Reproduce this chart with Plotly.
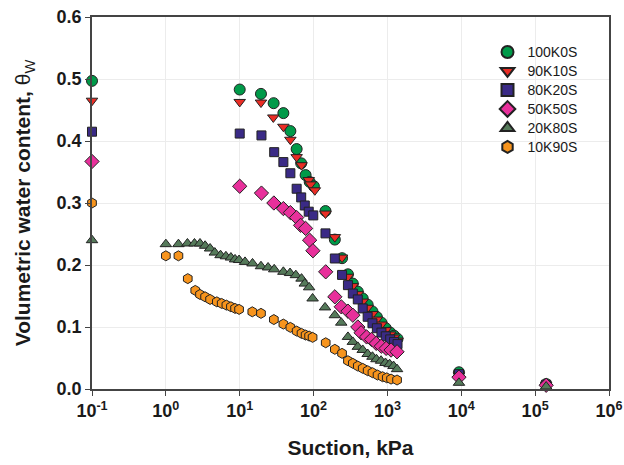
import plotly.graph_objects as go

# ---------------- data ----------------
dense_x = [145, 194, 243, 292, 340, 397, 463, 540, 627, 720, 830, 950, 1090, 1230, 1370]

s100_x = [0.1, 10, 19.4, 28.8, 39, 48.5, 59, 68, 78, 88.6, 101] + dense_x + [9300, 141000]
s100_y = [0.497, 0.483, 0.476, 0.461, 0.445, 0.416, 0.387, 0.364, 0.345, 0.334, 0.327,
          0.287, 0.241, 0.211, 0.185, 0.170, 0.157, 0.146, 0.136, 0.125, 0.116, 0.107,
          0.098, 0.091, 0.086, 0.081, 0.027, 0.008]

s90_x = [0.1, 10, 19.4, 28.5, 39, 48.5, 59, 68.7, 86, 91, 104] + dense_x + [9300, 141000]
s90_y = [0.465, 0.463, 0.462, 0.438, 0.423, 0.402, 0.374, 0.361, 0.337, 0.330, 0.3205,
         0.283, 0.245, 0.212, 0.181, 0.166, 0.153, 0.141, 0.131, 0.121, 0.112, 0.104,
         0.095, 0.088, 0.083, 0.078, 0.022, 0.007]

s80_x = [0.1, 10, 19.7, 29.3, 39, 48.5, 59, 68, 76, 86, 99] + dense_x + [9300, 141000]
s80_y = [0.415, 0.412, 0.409, 0.382, 0.366, 0.348, 0.323, 0.309, 0.296, 0.286, 0.280,
         0.251, 0.2105, 0.184, 0.1675, 0.154, 0.1445, 0.130, 0.1165, 0.106, 0.098, 0.091,
         0.085, 0.080, 0.076, 0.0725, 0.024, 0.007]

s50_x = [0.1, 10, 19.7, 29, 39, 48.5, 59, 66.8, 78, 88.5, 98,
         146, 194, 237, 292, 340, 397, 440, 522, 608, 705, 825, 960, 1120, 1350, 9300, 141000]
s50_y = [0.367, 0.327, 0.316, 0.300, 0.291, 0.2845, 0.2765, 0.264, 0.259, 0.240, 0.223,
         0.189, 0.1487, 0.1326, 0.1256, 0.119, 0.100, 0.0907, 0.084, 0.080, 0.0736, 0.069,
         0.0655, 0.0628, 0.060, 0.019, 0.006]

s20_x = [0.1, 1.0, 1.48, 1.96, 2.44, 2.9, 3.4, 3.97, 4.6, 5.5, 6.5, 7.6, 8.65, 9.8, 11.8,
         14.9, 19.4, 24.2, 29.3, 39, 48, 57.5, 68.7, 76, 87, 97,
         143, 194, 237, 292, 340, 397, 463, 540, 627, 710, 820, 940, 1070, 1210, 1350,
         9300, 141000]
s20_y = [0.240, 0.2336, 0.2336, 0.2347, 0.2347, 0.2347, 0.231, 0.2266, 0.220, 0.2158,
         0.214, 0.212, 0.209, 0.208, 0.205, 0.2025, 0.198, 0.196, 0.193, 0.189, 0.187,
         0.1836, 0.178, 0.170, 0.164, 0.146,
         0.1316, 0.119, 0.107, 0.084, 0.076, 0.068, 0.063, 0.0564, 0.052, 0.048, 0.0456,
         0.042, 0.040, 0.037, 0.032, 0.010, 0.004]

s10_x = [0.1, 1.0, 1.48, 1.98, 2.5, 2.9, 3.4, 3.97, 4.9, 5.7, 6.6, 7.6, 8.65, 9.8, 14.8,
         19.4, 29, 39, 48.5, 59, 68.7, 78, 87, 97,
         146, 194, 243, 292, 340, 397, 463, 540, 627, 735, 860, 980, 1120, 1350]
s10_y = [0.300, 0.2148, 0.2148, 0.178, 0.159, 0.1525, 0.1487, 0.1445, 0.1406, 0.138,
         0.1353, 0.1326, 0.130, 0.1284, 0.1245, 0.122, 0.112, 0.1047, 0.0994, 0.0934,
         0.0897, 0.087, 0.0854, 0.0833,
         0.0746, 0.064, 0.0575, 0.0456, 0.0414, 0.037, 0.0333, 0.0295, 0.0263, 0.0225,
         0.0198, 0.018, 0.016, 0.0145]

series_names = ["100K0S", "90K10S", "80K20S", "50K50S", "20K80S", "10K90S"]

x_tickvals = [0.1, 1, 10, 100, 1000, 10000, 100000, 1000000]
x_ticktext = ["10<sup>-1</sup>", "10<sup>0</sup>", "10<sup>1</sup>", "10<sup>2</sup>",
              "10<sup>3</sup>", "10<sup>4</sup>", "10<sup>5</sup>", "10<sup>6</sup>"]
y_tickvals = [0.0, 0.1, 0.2, 0.3, 0.4, 0.5, 0.6]
y_ticktext = ["0.0", "0.1", "0.2", "0.3", "0.4", "0.5", "0.6"]

styles = [
    ("circle", "#009a49", 11),
    ("triangle-down", "#ea2d25", 10),
    ("square", "#3a2a86", 9),
    ("diamond", "#e8309b", 11),
    ("triangle-up", "#557a5a", 10),
    ("hexagon", "#f7941d", 10),
]
data = [(s100_x, s100_y), (s90_x, s90_y), (s80_x, s80_y),
        (s50_x, s50_y), (s20_x, s20_y), (s10_x, s10_y)]

fig = go.Figure()
for name, (xs, ys), (sym, col, size) in zip(series_names, data, styles):
    fig.add_trace(go.Scatter(
        x=xs, y=ys, mode="markers", cliponaxis=False,
        name="<span style='font-size:14px'>" + name + "</span>",
        marker=dict(symbol=sym, color=col, size=size,
                    line=dict(color="#222222", width=1)),
    ))

FAM = "Arial, Liberation Sans, sans-serif"
xtitle_font = dict(family=FAM, size=21, color="#1a1a1a")
ytitle_font = dict(family=FAM, size=21, color="#1a1a1a")
tick_font = dict(family=FAM, size=18, color="#1a1a1a", weight="bold")
fig.update_layout(
    width=624, height=465,
    margin=dict(l=92, r=15, t=17, b=76, autoexpand=False),
    paper_bgcolor="#ffffff", plot_bgcolor="#ffffff",
    font=dict(family=FAM, color="#1a1a1a"),
    showlegend=True,
    legend=dict(x=0.765, y=0.945, xanchor="left", yanchor="top",
                bgcolor="rgba(0,0,0,0)", font=dict(size=12, color="#1a1a1a"),
                itemsizing="constant", tracegroupgap=0),
    xaxis=dict(type="log", range=[-1, 6], tickvals=x_tickvals, ticktext=x_ticktext,
               tickfont=tick_font, automargin=False,
               showline=True, linecolor="#444444", linewidth=1.5, mirror=True,
               ticks="outside", ticklen=5, tickcolor="#444444",
               showgrid=True, gridcolor="#ececec", gridwidth=1, zeroline=False,
               title=dict(text="<b>Suction, kPa</b>", font=xtitle_font, standoff=20)),
    yaxis=dict(range=[0, 0.6], tickvals=y_tickvals, ticktext=y_ticktext,
               tickfont=tick_font, automargin=False,
               showline=True, linecolor="#444444", linewidth=1.5, mirror=True,
               ticks="outside", ticklen=5, tickcolor="#444444",
               showgrid=True, gridcolor="#ececec", gridwidth=1, zeroline=False,
               title=dict(text="<b>Volumetric water content, </b>θ<sub>W</sub>",
                          font=ytitle_font, standoff=20)),
)

fig.write_html("out.html", config={"displayModeBar": False},
               post_script="document.body.style.margin='0';")
